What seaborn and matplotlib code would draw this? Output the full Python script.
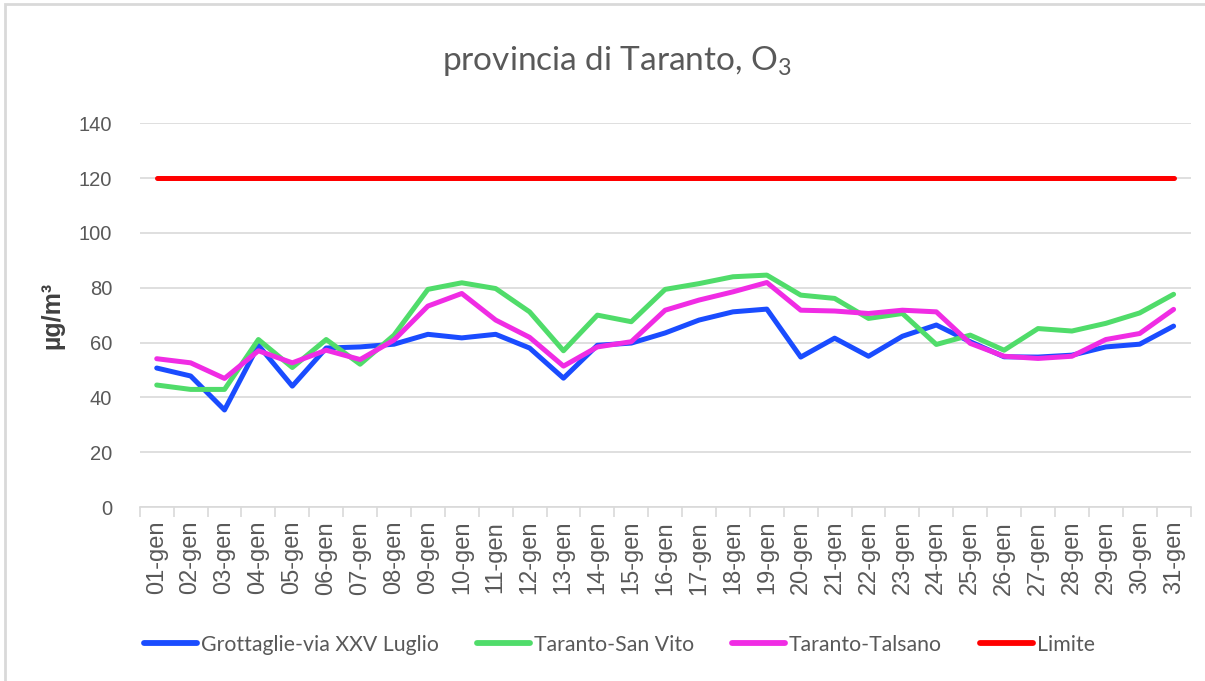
import matplotlib
matplotlib.use("Agg")
import matplotlib.pyplot as plt
from matplotlib.patches import Rectangle
import pandas as pd
import seaborn as sns

# data (ozone, January)
giorni = [f"{d:02d}-gen" for d in range(1, 32)]
grottaglie = [50.7, 47.8, 35.4, 59.0, 44.1, 58.0, 58.4, 59.4, 63.0, 61.7, 63.0, 58.0, 47.0,
              59.0, 59.8, 63.5, 68.2, 71.2, 72.2, 54.7, 61.6, 55.0, 62.3, 66.4, 60.3, 54.8,
              54.7, 55.4, 58.4, 59.4, 66.0]
san_vito = [44.5, 42.9, 42.9, 61.1, 50.9, 61.1, 52.1, 62.7, 79.4, 81.8, 79.7, 71.2, 57.0,
            70.0, 67.6, 79.4, 81.5, 84.0, 84.6, 77.3, 76.1, 68.8, 70.6, 59.3, 62.7, 57.2,
            65.1, 64.2, 67.0, 70.8, 77.6]
talsano = [54.1, 52.6, 46.9, 57.0, 52.6, 57.2, 53.8, 60.9, 73.3, 77.9, 68.2, 61.9, 51.4,
           58.4, 60.3, 71.8, 75.5, 78.5, 81.9, 71.8, 71.5, 70.6, 71.8, 71.2, 59.7, 55.0,
           54.2, 55.0, 61.1, 63.3, 72.1]
limite = [120] * 31

serie = {
    "Grottaglie-via XXV Luglio": grottaglie,
    "Taranto-San Vito": san_vito,
    "Taranto-Talsano": talsano,
    "Limite": limite,
}
colori = ["#1a4cff", "#50dc6a", "#f02ce4", "#ff0000"]

df = pd.concat(
    [pd.DataFrame({"giorno": giorni, "valore": v, "stazione": k}) for k, v in serie.items()],
    ignore_index=True,
)

sns.set_style("white")
plt.rcParams["font.family"] = ["Liberation Sans", "DejaVu Sans"]
lato = ["Lato", "DejaVu Sans"]

fig = plt.figure(figsize=(12.05, 6.81), dpi=100)
ax = fig.add_axes([0.116, 0.2555, 0.872, 0.5635])

sns.lineplot(data=df, x="giorno", y="valore", hue="stazione", palette=colori,
             linewidth=3.6, sort=False, ax=ax, legend=True)

ax.set_xlim(-0.5, 30.5)
ax.set_ylim(0, 140)
ax.set_yticks(range(0, 141, 20))
ax.yaxis.grid(True, color="#d9d9d9", linewidth=1.2)
ax.xaxis.grid(False)
for s in ["top", "right", "left"]:
    ax.spines[s].set_visible(False)
ax.spines["bottom"].set_color("#d9d9d9")
ax.spines["bottom"].set_linewidth(1.2)

ax.set_xticks(range(31))
ax.set_xticklabels(giorni, rotation=90, fontsize=17, color="#595959")
ax.set_xticks([i - 0.5 for i in range(32)], minor=True)
ax.tick_params(axis="x", which="major", length=0, pad=10)
ax.tick_params(axis="x", which="minor", length=7, width=1.2, color="#d9d9d9", bottom=True)
ax.tick_params(axis="y", length=0, pad=20, labelsize=14.5, labelcolor="#595959")

ax.set_xlabel("")
ax.set_ylabel("µg/m³", fontsize=18, fontweight="bold", color="#404040", labelpad=10)

fig.suptitle("provincia di Taranto, O$\\mathregular{_3}$", x=0.512, y=0.935, fontsize=24,
             color="#595959", family=lato)

handles, labels = ax.get_legend_handles_labels()
ax.legend_.remove()
leg = fig.legend(handles, labels, loc="center", bbox_to_anchor=(0.514, 0.053), ncol=4,
                 frameon=False, handlelength=2.5, handletextpad=0.18, columnspacing=1.8,
                 prop={"family": lato, "size": 15.3})
for t in leg.get_texts():
    t.set_color("#595959")
for h in leg.get_lines():
    h.set_linewidth(4.2)

fig.patches.append(Rectangle((0.004, -0.01), 1.0, 1.004, transform=fig.transFigure,
                             fill=False, edgecolor="#d9d9d9", linewidth=2))

fig.savefig("out.png", dpi=100)
